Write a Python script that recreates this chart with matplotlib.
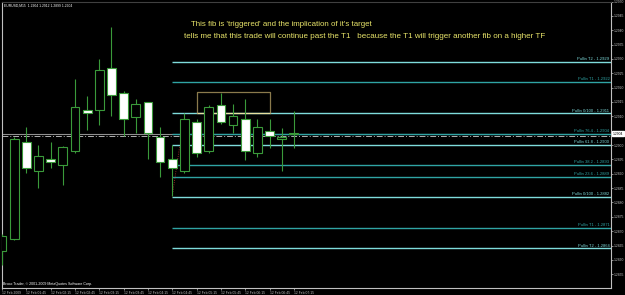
import matplotlib
matplotlib.use("Agg")
import matplotlib.pyplot as plt
import numpy as np

# candles EURUSD M15 (open, high, low, close)
abertura = [1.28631, 1.28672, 1.29010, 1.28909, 1.28951, 1.28930, 1.28979, 1.29122,
            1.29122, 1.29268, 1.29181, 1.29098, 1.29150, 1.29028, 1.28951, 1.28909,
            1.29080, 1.28979, 1.29139, 1.29070, 1.29091, 1.28972, 1.29049, 1.29021, 1.29040]
maxima = [1.28690, 1.29028, 1.29063, 1.29000, 1.29010, 1.28997, 1.29230, 1.29171,
          1.29300, 1.29411, 1.29188, 1.29160, 1.29150, 1.29063, 1.29000, 1.29111,
          1.29091, 1.29139, 1.29181, 1.29143, 1.29160, 1.29091, 1.29091, 1.29059, 1.29120]
minima = [1.28582, 1.28669, 1.28902, 1.28850, 1.28920, 1.28861, 1.28972, 1.29052,
          1.29070, 1.29101, 1.29031, 1.29042, 1.28951, 1.28889, 1.28822, 1.28902,
          1.28958, 1.28972, 1.29073, 1.29042, 1.28948, 1.28958, 1.28990, 1.28909, 1.28990]
fechamento = [1.28683, 1.29021, 1.28920, 1.28962, 1.28941, 1.28993, 1.29132, 1.29111,
              1.29261, 1.29174, 1.29091, 1.29143, 1.29042, 1.28941, 1.28920, 1.29091,
              1.28972, 1.29132, 1.29080, 1.29101, 1.28979, 1.29063, 1.29031, 1.29028, 1.29042]

# rótulos do eixo de tempo (a cada 2 candles)
rotulos_tempo = ["12 Feb 2009", "12 Feb 01:45", "12 Feb 02:15", "12 Feb 02:45", "12 Feb 03:15",
                 "12 Feb 03:45", "12 Feb 04:15", "12 Feb 04:45", "12 Feb 05:15", "12 Feb 05:45",
                 "12 Feb 06:15", "12 Feb 06:45", "12 Feb 07:15"]

# níveis de fibonacci
fib_nomes = ["T2", "T1", "0/100", "76.4", "61.8", "38.2", "23.6", "0/100", "T1", "T2"]
fib_precos = [1.2929, 1.2922, 1.2911, 1.2904, 1.2900, 1.2893, 1.2889, 1.2882, 1.2871, 1.2864]
fib_claro = [True, False, True, False, True, False, False, True, False, True]

preco_atual = 1.2904
preco_linha = 1.29031
caixa_topo = 1.29186

fundo = "#000000"
verde = "#3a9a3a"
cinza = "#c0c0c0"
ciano = "#7fdcdc"
ciano_esc = "#2fa3a3"
amarelo = "#e8e46a"
fonte = "Liberation Sans"

fig = plt.figure(figsize=(6.25, 2.95), dpi=100, facecolor=fundo)
ax = fig.add_axes([2 / 625, 7 / 295, 609 / 625, 286.5 / 295], facecolor=fundo)

n = len(abertura)
x = np.arange(n)
ax.set_xlim(0.04, 50.08)
ax.set_ylim(1.28502, 1.29500)

# linha de preço (bid) e linha traço-ponto
ax.axhline(preco_atual, color="#909090", lw=0.8, zorder=1)
ax.axhline(preco_linha, color="#b0b0b0", lw=0.7, ls=(0, (6, 2, 1, 2)), zorder=1)

# fibonacci
inicio = 14.0
for nome, p, claro in zip(fib_nomes, fib_precos, fib_claro):
    cor = ciano if claro else ciano_esc
    ax.hlines(p, inicio, 50.08, color=cor, lw=1.0, zorder=2)
    ax.text(49.95, p + 0.00003, f"Pullin {nome} - {p:.4f}", color=cor, fontsize=3.0,
            family=fonte, ha="right", va="bottom", zorder=3)

# retângulo marrom
ax.plot([16.0, 16.0, 22.0, 22.0], [1.29111, caixa_topo, caixa_topo, 1.29111],
        color="#8a7a4c", lw=0.9, zorder=2)
ax.hlines(1.29111, 16.0, 22.0, color="#e8e0a0", lw=0.9, zorder=2)

# linha vermelha pontilhada
ax.plot([14.0, 14.6], [1.28822, 1.28993], color="#c03030", lw=0.6, ls=":", zorder=2)

# candles
for i in range(n):
    o, h, l, c = abertura[i], maxima[i], minima[i], fechamento[i]
    ax.vlines(x[i], l, h, color=verde, lw=0.8, zorder=4)
    baixo = min(o, c)
    alt = max(abs(c - o), 0.00002)
    cor_corpo = "#000000" if c > o else "#ffffff"
    ax.bar(x[i], alt, 0.72, bottom=baixo, color=cor_corpo, edgecolor=verde, lw=0.8, zorder=5)

# eixos
for s in ax.spines.values():
    s.set_color(cinza)
    s.set_linewidth(0.8)
ax.spines["top"].set_color("#404040")

ticks_y = np.arange(1.2855, 1.29501, 0.0005)
# o rótulo 1.2905 fica escondido pela caixa do preço atual
rotulos_y = ["" if abs(t - 1.2905) < 1e-6 else f"{t:.4f}" for t in ticks_y]
ax.yaxis.tick_right()
ax.set_yticks(ticks_y)
ax.set_yticklabels(rotulos_y, family=fonte)
ax.tick_params(axis="y", colors=cinza, labelsize=2.4, length=1.5, width=0.5, pad=0.6)

ax.set_xticks(x[::2])
ax.set_xticklabels(rotulos_tempo, ha="left", family=fonte)
ax.tick_params(axis="x", colors=cinza, labelsize=2.4, length=1.5, width=0.5, pad=0.3)

# caixa do preço atual
ax.text(1.0025, preco_atual, f"{preco_atual:.4f}", transform=ax.get_yaxis_transform(),
        fontsize=2.4, family=fonte, color="black", va="center", ha="left",
        bbox=dict(boxstyle="square,pad=0.2", fc="white", ec="white"), clip_on=False, zorder=10)

# textos
ax.text(0.004, 0.993, "EURUSD,M15  1.2904 1.2912 1.2899 1.2904", transform=ax.transAxes,
        color="white", fontsize=2.4, family=fonte, va="top", ha="left")
ax.text(0.001, 0.008, "Broco Trader, \u00a9 2001-2009 MetaQuotes Software Corp.", transform=ax.transAxes,
        color="white", fontsize=2.6, family=fonte, va="bottom", ha="left")

ax.text(23.0, 1.29420, "This fib is 'triggered' and the implication of it's target",
        color=amarelo, fontsize=5.7, family=fonte, ha="center", va="center")
ax.text(15.0, 1.29378,
        "tells me that this trade will continue past the T1   because the T1 will trigger another fib on a higher TF",
        color=amarelo, fontsize=5.75, family=fonte, ha="left", va="center")

fig.savefig("out.png", dpi=100, facecolor=fundo)
